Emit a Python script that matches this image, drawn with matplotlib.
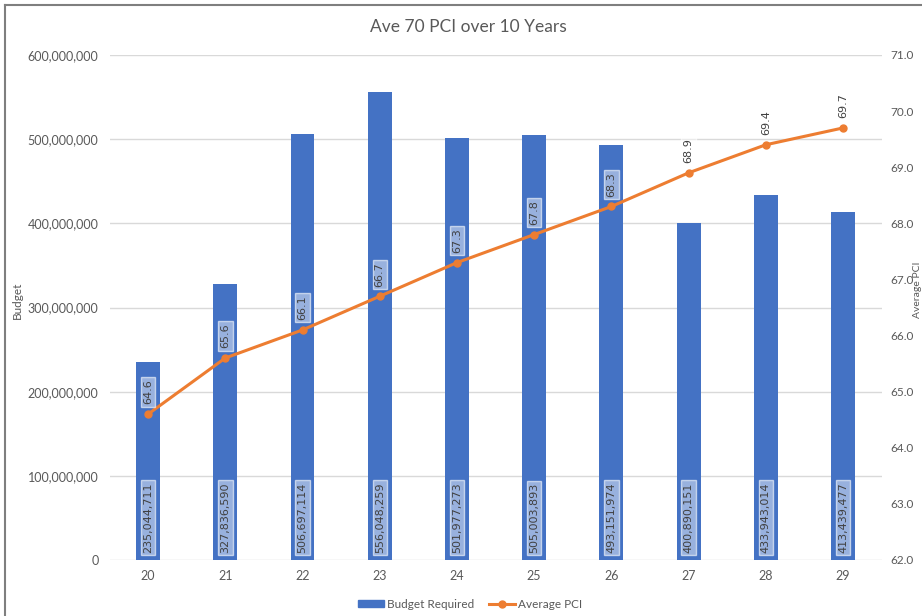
import matplotlib
matplotlib.use("Agg")
import matplotlib.pyplot as plt
from matplotlib.lines import Line2D
from matplotlib.patches import Patch
from matplotlib.ticker import FuncFormatter, MultipleLocator

years = ["20", "21", "22", "23", "24", "25", "26", "27", "28", "29"]
budget = [235044711, 327836590, 506697114, 556048259, 501977273,
          505003893, 493151974, 400890151, 433943014, 413439477]
avg_pci = [64.6, 65.6, 66.1, 66.7, 67.3, 67.8, 68.3, 68.9, 69.4, 69.7]

bar_color = "#4472C4"
line_color = "#ED7D31"
txt = "#595959"
plt.rcParams['font.family'] = ['Lato', 'DejaVu Sans']

fig = plt.figure(figsize=(9.22, 6.16), dpi=100)
ax = fig.add_axes([109.5 / 922, 1 - 560 / 616, (881.6 - 109.5) / 922, (560 - 55) / 616])
ax2 = ax.twinx()

x = range(len(years))
ax.bar(x, budget, width=0.31, color=bar_color, zorder=2)
ax.set_xlim(-0.5, len(years) - 0.5)
ax.set_ylim(0, 600000000)
ax.yaxis.set_major_locator(MultipleLocator(100000000))
ax.yaxis.set_major_formatter(FuncFormatter(lambda v, p: f"{v:,.0f}"))
ax.set_xticks(list(x))
ax.set_xticklabels(years)
ax.grid(axis="y", color="#D9D9D9", lw=1, zorder=0)
ax.set_axisbelow(True)
for s in ax.spines.values():
    s.set_visible(False)
ax.tick_params(length=0, colors=txt, labelsize=9)
ax.tick_params(axis="y", pad=8)
ax.tick_params(axis="x", pad=7)

box = dict(boxstyle="square,pad=0.2", fc=(1, 1, 1, 0.45), ec=(1, 1, 1, 0.6), lw=1)
for i, b in enumerate(budget):
    ax.annotate(f"{b:,}", (i, 0), xytext=(0, 5), textcoords="offset points",
                rotation=90, ha="center", va="bottom", fontsize=8,
                color="#404040", family="DejaVu Sans", bbox=box, zorder=3)

ax2.plot(list(x), avg_pci, color=line_color, lw=2.2, marker="o", ms=5, zorder=4)
ax2.set_ylim(62, 71)
ax2.yaxis.set_major_locator(MultipleLocator(1))
ax2.yaxis.set_major_formatter(FuncFormatter(lambda v, p: f"{v:.1f}"))
for s in ax2.spines.values():
    s.set_visible(False)
ax2.tick_params(length=0, colors=txt, labelsize=8.5, pad=6)
for i, v in enumerate(avg_pci):
    ax2.annotate(f"{v:.1f}", (i, v), xytext=(0, 7), textcoords="offset points",
                 rotation=90, ha="center", va="bottom", fontsize=8,
                 color="#404040", family="DejaVu Sans", bbox=box, zorder=5)

fig.text(468 / 922, 1 - 27 / 616, "Ave 70 PCI over 10 Years", ha="center", va="center",
         fontsize=12.5, color=txt)
fig.text(17 / 922, 1 - 300 / 616, "Budget", rotation=90, ha="center", va="center",
         fontsize=8.5, color=txt)
fig.text(917 / 922, 1 - 290 / 616, "Average PCI", rotation=90, ha="center", va="center",
         fontsize=7.5, color=txt)

handles = [Patch(color=bar_color, label="Budget Required"),
           Line2D([], [], color=line_color, lw=2.2, marker="o", ms=5, label="Average PCI")]
leg = fig.legend(handles=handles, loc="center", bbox_to_anchor=(470 / 922, 1 - 604 / 616),
                 ncol=2, frameon=False, fontsize=8.5, handlelength=2.2, handleheight=0.6,
                 columnspacing=1.2, handletextpad=0.3)
for t in leg.get_texts():
    t.set_color(txt)

# chart border (only top and left visible in the crop)
fig.add_artist(Line2D([5 / 922, 5 / 922], [0, 1 - 5 / 616], color="#7F7F7F", lw=1.5,
                      transform=fig.transFigure))
fig.add_artist(Line2D([5 / 922, 1], [1 - 5 / 616, 1 - 5 / 616], color="#7F7F7F", lw=1.5,
                      transform=fig.transFigure))

fig.savefig("out.png", dpi=100)
